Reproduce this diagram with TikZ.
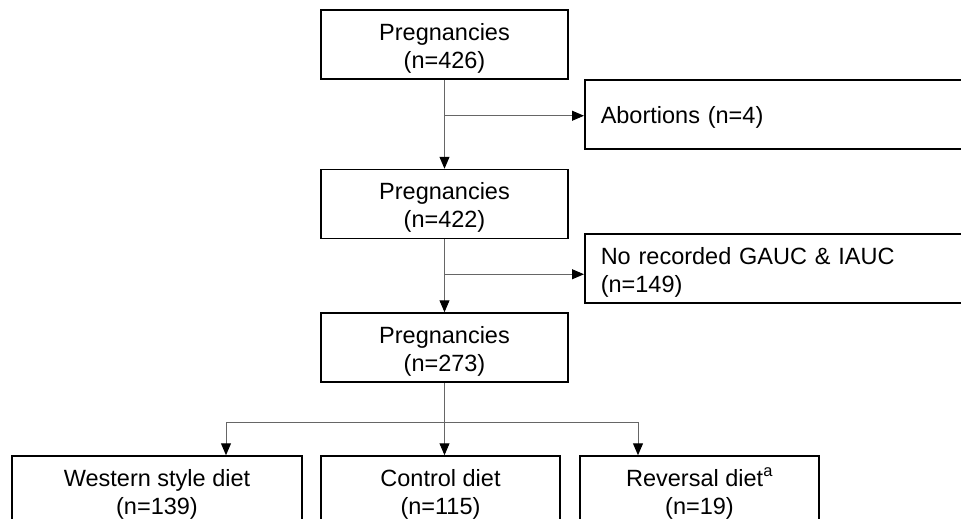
\documentclass[tikz,border=0pt]{standalone}
\usepackage{fontspec}
\setmainfont{Liberation Sans}
\usepackage{tikz}
\usetikzlibrary{arrows.meta, calc, positioning}

\begin{document}
\begin{tikzpicture}[x=1pt, y=-1pt,
    box/.style={draw, line width=1.5pt, rectangle, inner sep=0pt, align=center,
        minimum height=69pt, font=\fontsize{23.5}{28}\selectfont,
        text height=51pt, text depth=4pt},
    sidebox/.style={draw, line width=1.5pt, rectangle, inner sep=0pt, anchor=north west,
        minimum height=69pt, minimum width=420pt, text width=404pt, align=left,
        font=\fontsize{23.5}{28}\selectfont},
    link/.style={draw=black!60, line width=1pt, -{Triangle[length=12pt, width=10pt, black]}},
    wire/.style={draw=black!60, line width=1pt}]
    % 1. Khung trang
    \useasboundingbox (0,0) rectangle (961,519);
    \clip (0,0) rectangle (961,519);

    % 2. Cac hop chinh
    \node[box, minimum width=247pt] (p426) at (444.5,44.5) {Pregnancies\\(n=426)};
    \node[box, minimum width=247pt] (p422) at (444.5,204) {Pregnancies\\(n=422)};
    \node[box, minimum width=247pt] (p273) at (444.5,347.5) {Pregnancies\\(n=273)};

    % 3. Hop loai tru ben phai
    \node[sidebox, text height=25pt, text depth=6pt] (abort) at (584,79)
        {\hspace*{8pt}Abortions (n=4)};
    \node[sidebox, text height=21pt, text depth=28pt] (norec) at (584,233)
        {\hspace*{8pt}No recorded GAUC \& IAUC\\\hspace*{8pt}(n=149)};

    % 4. Ba nhom che do an
    \node[box, minimum width=290pt] (west) at (157,490.5) {Western style diet\\(n=139)};
    \node[box, minimum width=239pt] (ctrl) at (440.5,490.5) {Control diet\\(n=115)};
    \node[box, minimum width=239pt] (rev) at (699.5,490.5) {Reversal diet\textsuperscript{a}\\(n=19)};

    % 5. Mui ten noi
    \coordinate (j1) at ([yshift=-36pt]p426.south);
    \coordinate (j2) at ([yshift=-35pt]p422.south);
    \draw[link] (p426.south) -- (p422.north);
    \draw[link] (j1) -- (j1 -| abort.west);
    \draw[link] (p422.south) -- (p273.north);
    \draw[link] (j2) -- (j2 -| norec.west);

    \coordinate (wl) at (226,422);
    \coordinate (rl) at (638,422);
    \draw[wire] (wl) -- (rl);
    \draw[link] (p273.south) -- (p273.south |- ctrl.north);
    \draw[link] (wl) -- (wl |- west.north);
    \draw[link] (rl) -- (rl |- rev.north);
\end{tikzpicture}
\end{document}
